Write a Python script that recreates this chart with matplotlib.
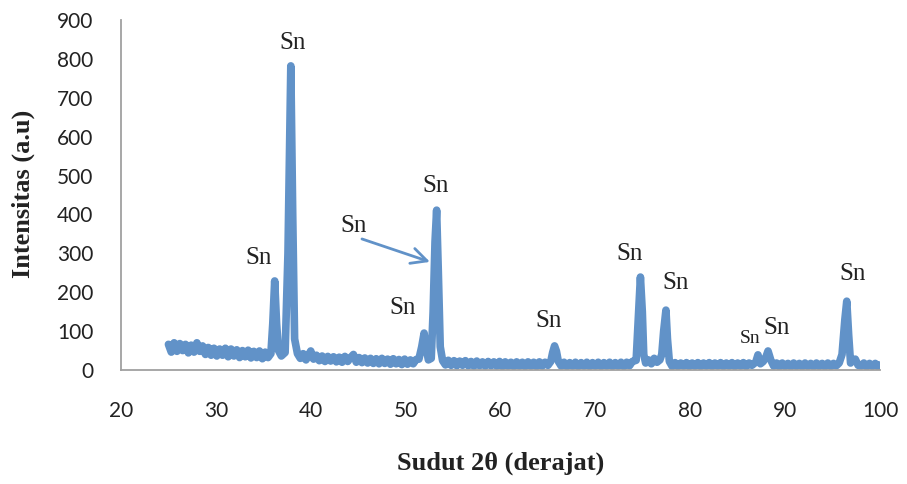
import matplotlib
matplotlib.use("Agg")
import matplotlib.pyplot as plt

# ---------- data ----------
two_theta = [
    25.0, 25.3, 25.6, 25.9, 26.2, 26.5, 26.8, 27.1, 27.4, 27.7, 28.0, 28.3, 28.6, 28.9,
    29.2, 29.5, 29.8, 30.1, 30.4, 30.7, 31.0, 31.3, 31.6, 31.9, 32.2, 32.5, 32.8, 33.1,
    33.4, 33.7, 34.0, 34.3, 34.6, 34.9, 35.2, 35.5, 35.8, 36.0, 36.2, 36.4, 36.6, 36.9,
    37.3, 37.6, 37.9, 38.1, 38.3, 38.6, 38.9, 39.2, 39.5, 39.8, 40.0, 40.3, 40.6, 40.9,
    41.2, 41.5, 41.8, 42.1, 42.4, 42.7, 43.0, 43.3, 43.6, 43.9, 44.2, 44.5, 44.8, 45.1,
    45.4, 45.7, 46.0, 46.3, 46.6, 46.9, 47.2, 47.5, 47.8, 48.1, 48.4, 48.7, 49.0, 49.3,
    49.6, 49.9, 50.2, 50.5, 50.8, 51.1, 51.4, 51.7, 51.95, 52.15, 52.4, 52.7, 52.9, 53.1,
    53.27, 53.45, 53.65, 53.9, 54.2, 54.5, 54.8, 55.1, 55.4, 55.7, 56.0, 56.3, 56.6, 56.9,
    57.2, 57.5, 57.8, 58.1, 58.4, 58.7, 59.0, 59.3, 59.6, 59.9, 60.2, 60.5, 60.8, 61.1,
    61.4, 61.7, 62.0, 62.3, 62.6, 62.9, 63.2, 63.5, 63.8, 64.1, 64.4, 64.7, 65.0, 65.3,
    65.5, 65.7, 65.9, 66.1, 66.4, 66.7, 67.0, 67.3, 67.6, 67.9, 68.2, 68.5, 68.8, 69.1,
    69.4, 69.7, 70.0, 70.3, 70.6, 70.9, 71.2, 71.5, 71.8, 72.1, 72.4, 72.7, 73.0, 73.3,
    73.6, 73.9, 74.3, 74.5, 74.75, 74.95, 75.1, 75.3, 75.6, 75.9, 76.2, 76.5, 76.8, 77.0,
    77.2, 77.44, 77.6, 77.8, 78.1, 78.4, 78.7, 79.0, 79.3, 79.6, 79.9, 80.2, 80.5, 80.8,
    81.1, 81.4, 81.7, 82.0, 82.3, 82.6, 82.9, 83.2, 83.5, 83.8, 84.1, 84.4, 84.7, 85.0,
    85.3, 85.6, 85.9, 86.2, 86.5, 86.9, 87.14, 87.4, 87.7, 88.0, 88.2, 88.5, 88.8, 89.1,
    89.4, 89.7, 90.0, 90.3, 90.6, 90.9, 91.2, 91.5, 91.8, 92.1, 92.4, 92.7, 93.0, 93.3,
    93.6, 93.9, 94.2, 94.5, 94.8, 95.1, 95.4, 95.7, 96.0, 96.3, 96.5, 96.7, 96.9, 97.1,
    97.4, 97.7, 98.0, 98.3, 98.6, 98.9, 99.2, 99.5, 99.8, 100.0,
]
intensity = [
    66, 46, 70, 48, 68, 50, 66, 44, 64, 46, 70, 48, 62, 40,
    58, 38, 56, 36, 54, 38, 56, 34, 54, 36, 52, 32, 50, 34,
    51, 31, 48, 32, 49, 29, 46, 32, 42, 120, 229, 120, 50, 36,
    45, 300, 782, 400, 80, 42, 30, 42, 26, 40, 49, 28, 38, 24,
    36, 22, 35, 23, 34, 21, 33, 20, 35, 22, 32, 40, 20, 32,
    19, 31, 18, 30, 17, 29, 16, 30, 17, 28, 15, 29, 16, 27,
    14, 28, 15, 26, 16, 27, 28, 60, 95, 60, 26, 30, 150, 330,
    411, 250, 60, 24, 13, 25, 12, 24, 11, 23, 12, 24, 11, 22,
    10, 23, 11, 21, 10, 22, 11, 21, 10, 22, 9, 21, 10, 20,
    9, 21, 10, 20, 9, 21, 10, 20, 9, 21, 10, 20, 12, 22,
    45, 62, 48, 22, 10, 20, 9, 19, 10, 20, 9, 19, 10, 20,
    9, 19, 10, 20, 9, 19, 10, 20, 9, 19, 10, 20, 9, 20,
    11, 22, 25, 120, 239, 150, 40, 18, 26, 16, 30, 20, 26, 40,
    100, 154, 80, 22, 9, 19, 9, 18, 10, 19, 9, 18, 10, 19,
    9, 18, 10, 19, 9, 18, 10, 19, 9, 18, 10, 19, 9, 18,
    10, 19, 9, 18, 12, 20, 39, 16, 22, 35, 49, 25, 10, 18,
    8, 18, 9, 17, 8, 18, 9, 17, 8, 18, 9, 17, 8, 18,
    9, 17, 8, 18, 9, 17, 11, 18, 40, 130, 177, 90, 18, 26,
    28, 12, 10, 18, 8, 17, 9, 17, 8, 13,
]

# peak labels: (text, 2theta, intensity, fontsize)
peak_labels = [
    ("Sn", 34.55, 288, 18),
    ("Sn", 38.13, 841, 18),
    ("Sn", 49.72, 159, 18),
    ("Sn", 53.2, 473, 18),
    ("Sn", 65.11, 126, 18),
    ("Sn", 73.65, 298, 18),
    ("Sn", 78.5, 224, 18),
    ("Sn", 86.3, 82, 14),
    ("Sn", 89.14, 108, 18),
    ("Sn", 97.15, 247, 18),
]
# arrowed label for the 53 deg peak
arrow_text = ("Sn", 44.56, 370)
arrow_start = (45.4, 337)
arrow_end = (52.57, 278)

x_ticks = [20, 30, 40, 50, 60, 70, 80, 90, 100]
y_ticks = [0, 100, 200, 300, 400, 500, 600, 700, 800, 900]

LINE_COLOR = "#6192c8"
SERIF = ["Liberation Serif", "DejaVu Serif"]

# ---------- figure ----------
fig = plt.figure(figsize=(9.07, 4.84), dpi=100)
ax = fig.add_axes([0.1334, 0.2355, 0.8368, 0.7232])

ax.plot(two_theta, intensity, color=LINE_COLOR, linewidth=5.5,
        solid_joinstyle="round", solid_capstyle="round")

ax.set_xlim(20, 100)
ax.set_ylim(0, 900)
ax.set_xticks(x_ticks)
ax.set_yticks(y_ticks)
ax.tick_params(axis="both", length=0, labelsize=15, colors="#222222")
ax.tick_params(axis="y", pad=20)
ax.tick_params(axis="x", pad=22)
for lab in ax.get_xticklabels() + ax.get_yticklabels():
    lab.set_fontfamily(["Lato", "DejaVu Sans"])

for s in ["top", "right"]:
    ax.spines[s].set_visible(False)
for s in ["left", "bottom"]:
    ax.spines[s].set_color("#a0a0a0")
    ax.spines[s].set_linewidth(1.3)

for txt, px, py, fs in peak_labels:
    ax.text(px, py, txt, ha="center", va="center", fontsize=fs,
            family=SERIF, color="#222222")

ax.text(arrow_text[1], arrow_text[2], arrow_text[0], ha="center", va="center",
        fontsize=18, family=SERIF, color="#222222")
ax.annotate("", xy=arrow_end, xytext=arrow_start,
            arrowprops=dict(arrowstyle="->", color=LINE_COLOR, lw=2,
                            mutation_scale=28, shrinkA=0, shrinkB=0))

fig.text(0.5518, 0.043, "Sudut 2\u03b8 (derajat)", ha="center", va="center",
         fontsize=19, fontweight="bold", family=SERIF, color="#222222")
fig.text(0.0254, 0.599, "Intensitas (a.u)", ha="center", va="center",
         rotation=90, fontsize=19, fontweight="bold", family=SERIF,
         color="#222222")

fig.savefig("out.png", dpi=100)
